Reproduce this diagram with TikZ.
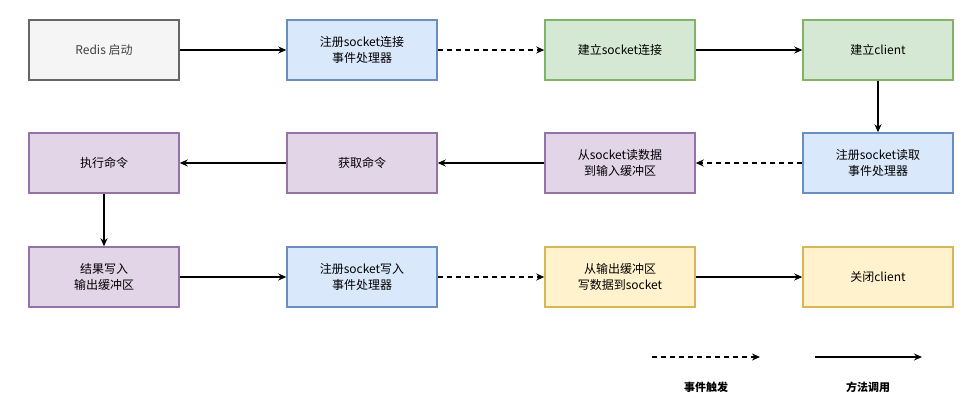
\documentclass[tikz,border=0pt]{standalone}
\usepackage{fontspec}
\setmainfont{Noto Sans CJK SC}
\usetikzlibrary{positioning,arrows.meta}
\definecolor{grayF}{HTML}{F5F5F5}\definecolor{grayD}{HTML}{666666}
\definecolor{blueF}{HTML}{DAE8FC}\definecolor{blueD}{HTML}{6C8EBF}
\definecolor{greenF}{HTML}{D5E8D4}\definecolor{greenD}{HTML}{82B366}
\definecolor{purpF}{HTML}{E1D5E7}\definecolor{purpD}{HTML}{9673A6}
\definecolor{yelF}{HTML}{FFF2CC}\definecolor{yelD}{HTML}{D6B656}
\begin{document}
\begin{tikzpicture}[x=1pt,y=-1pt,>={Stealth[length=8pt,width=7pt]},line width=1.4pt,
  box/.style={draw,line width=1.5pt,minimum width=150pt,minimum height=60pt,align=center,font=\fontsize{12}{16}\selectfont},
  start/.style={box,fill=grayF,draw=grayD,text=black!75},
  reg/.style={box,fill=blueF,draw=blueD},
  conn/.style={box,fill=greenF,draw=greenD},
  proc/.style={box,fill=purpF,draw=purpD},
  outp/.style={box,fill=yelF,draw=yelD},
  event/.style={->,dashed,dash pattern=on 5pt off 4pt},
  call/.style={->}]
\useasboundingbox (0,0) rectangle (969,410);
\node[start] (redis) at (104,50) {Redis 启动};
\node[reg]  (regconn) at (362,50) {注册socket连接\\事件处理器};
\node[conn] (socket) at (620,50) {建立socket连接};
\node[conn] (client) at (878,50) {建立client};
\node[reg]  (regread) at (878,163) {注册socket读取\\事件处理器};
\node[proc] (read) at (620,163) {从socket读数据\\到输入缓冲区};
\node[proc] (getcmd) at (362,163) {获取命令};
\node[proc] (exec) at (104,163) {执行命令};
\node[proc] (result) at (104,277) {结果写入\\输出缓冲区};
\node[reg]  (regwrite) at (362,277) {注册socket写入\\事件处理器};
\node[outp] (write) at (620,277) {从输出缓冲区\\写数据到socket};
\node[outp] (close) at (878,277) {关闭client};
\draw[call] (redis) -- (regconn);
\draw[event] (regconn) -- (socket);
\draw[call] (socket) -- (client);
\draw[call] (client) -- (regread);
\draw[event] (regread) -- (read);
\draw[call] (read) -- (getcmd);
\draw[call] (getcmd) -- (exec);
\draw[call] (exec) -- (result);
\draw[call] (result) -- (regwrite);
\draw[event] (regwrite) -- (write);
\draw[call] (write) -- (close);
% legend
\coordinate (e1) at (652,357); \coordinate (e2) at (760,357);
\coordinate (c1) at (815,357); \coordinate (c2) at (922,357);
\draw[event] (e1) -- (e2);
\draw[call] (c1) -- (c2);
\node[font=\bfseries\fontsize{11}{14}\selectfont] (evlbl) at (706,387) {事件触发};
\node[font=\bfseries\fontsize{11}{14}\selectfont] (calllbl) at (868,387) {方法调用};
\end{tikzpicture}
\end{document}
